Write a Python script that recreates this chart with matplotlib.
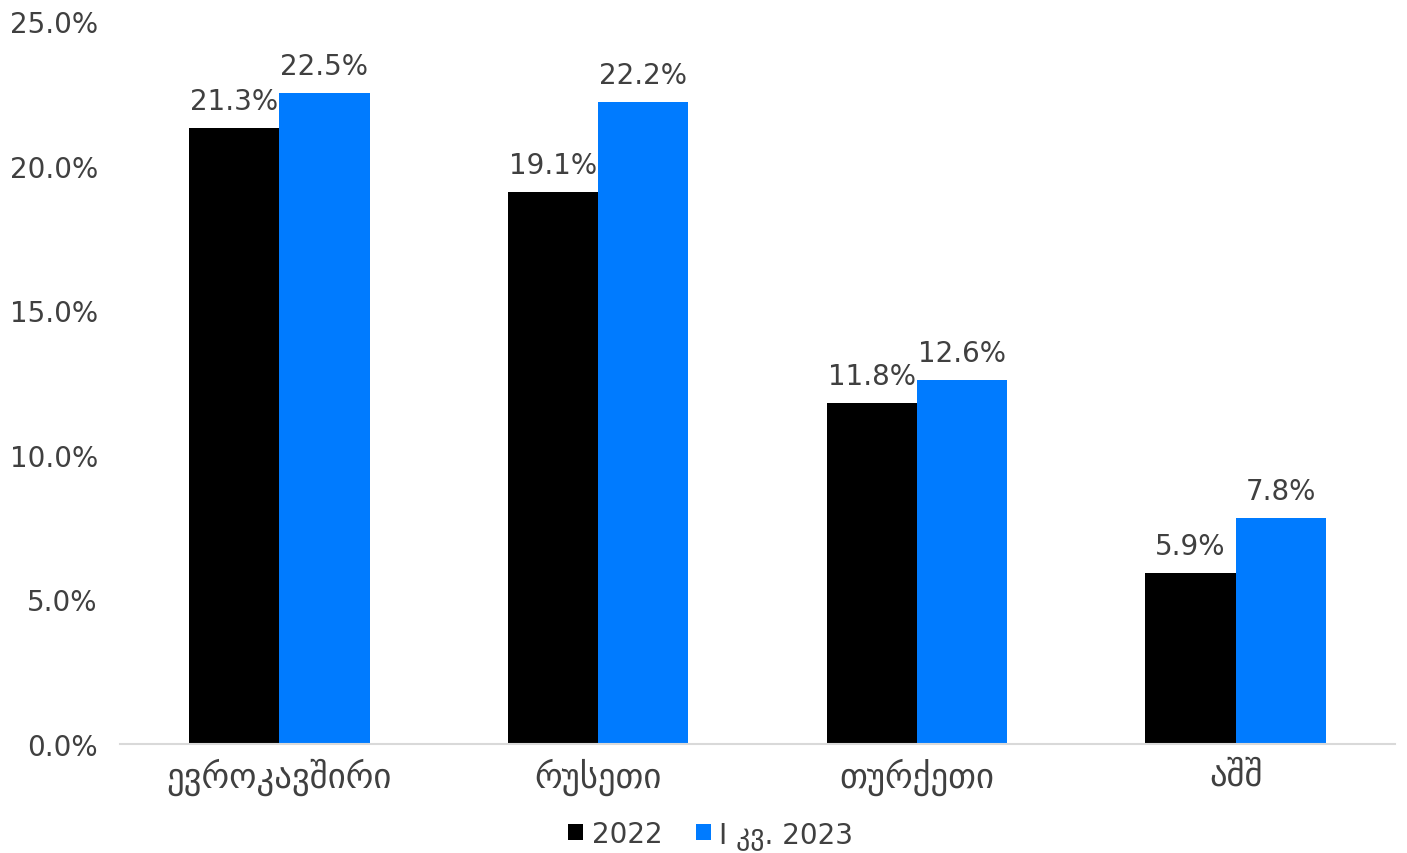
import matplotlib.pyplot as plt
import numpy as np

categories = ['ევროკავშირი', 'რუსეთი', 'თურქეთი', 'აშშ']
values_2022 = [21.3, 19.1, 11.8, 5.9]
values_2023 = [22.5, 22.2, 12.6, 7.8]
labels = ['2022', 'I კვ. 2023']
yticks = [0, 5, 10, 15, 20, 25]

txt = '#404040'
fig = plt.figure(figsize=(14.07, 8.54), dpi=100)
ax = fig.add_axes([0.0853, 0.1276, 0.9062, 0.8466])

x = np.arange(len(categories))
w = 0.283
b1 = ax.bar(x - w / 2, values_2022, w, color='black', label=labels[0])
b2 = ax.bar(x + w / 2, values_2023, w, color='#007bff', label=labels[1])

for bars in (b1, b2):
    for r in bars:
        ax.text(r.get_x() + r.get_width() / 2, r.get_height() + 0.45,
                f'{r.get_height():.1f}%', ha='center', va='bottom',
                fontsize=20, color=txt)

ax.set_xlim(-0.5, 3.5)
ax.set_ylim(0, 25)
ax.set_yticks(yticks)
ax.set_yticklabels([f'{v:.1f}%' for v in yticks])
ax.set_xticks(x)
ax.set_xticklabels(categories, fontsize=25)
ax.tick_params(axis='both', length=0, labelcolor=txt)
ax.tick_params(axis='y', labelsize=20, pad=16)
ax.tick_params(axis='x', pad=10)
for s in ['top', 'right', 'left']:
    ax.spines[s].set_visible(False)
ax.spines['bottom'].set_color('#d9d9d9')
ax.spines['bottom'].set_linewidth(1.5)

leg = fig.legend(loc='center', bbox_to_anchor=(0.505, 0.022), ncol=2,
                 frameon=False, fontsize=20, handlelength=0.55, handleheight=0.55,
                 handletextpad=0.3, columnspacing=1.2, labelcolor=txt)

fig.savefig('out.png', dpi=100)
